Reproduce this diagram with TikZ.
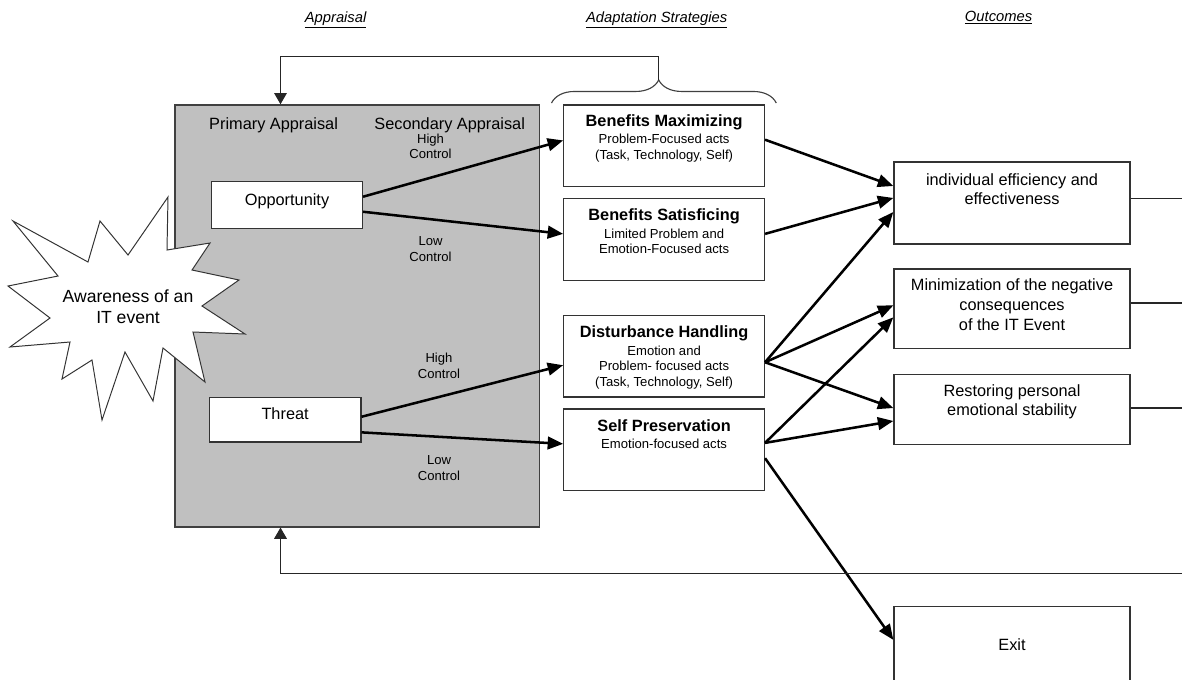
\documentclass[tikz,border=0pt]{standalone}
\usepackage{fontspec}
\setmainfont{Liberation Sans}
\usepackage{tikz}
\usetikzlibrary{arrows.meta,positioning,decorations.pathreplacing}
\definecolor{apprgray}{RGB}{192,192,192}

\begin{document}
\begin{tikzpicture}[x=0.025cm,y=-0.025cm,
    every node/.style={inner sep=0pt,font=\fontsize{11.6}{14}\selectfont},
    plainbox/.style={draw=black!80,line width=0.9pt,fill=white},
    stratbox/.style={plainbox,minimum width=142.7pt,minimum height=58pt},
    outbox/.style={plainbox,minimum width=167.9pt},
    boxtitle/.style={font=\fontsize{11.6}{14}\selectfont\bfseries,text height=8.3pt,text depth=2.5pt},
    boxsub/.style={font=\fontsize{9.3}{11.2}\selectfont,align=center},
    ctrl/.style={font=\fontsize{9.3}{11.2}\selectfont,align=center},
    hdr/.style={font=\fontsize{10.5}{12}\selectfont\itshape,anchor=base},
    arr/.style={line width=1.8pt,-{Triangle[length=11pt,width=9pt]}},
    fb/.style={draw=black!85,line width=0.9pt,-{Triangle[length=8pt,width=9pt]}},
    edge line/.style={draw=black!85,line width=0.9pt}]
  \useasboundingbox (0,0) rectangle (1182,679);

  % column headings
  \node[hdr] (hApp) at (335.6,22.5) {\underline{Appraisal}};
  \node[hdr] (hAdapt) at (656.7,22.5) {\underline{Adaptation Strategies}};
  \node[hdr] (hOut) at (998.6,21.5) {\underline{Outcomes}};

  % appraisal block
  \node[draw=black!75,line width=1pt,fill=apprgray,minimum width=259.3pt,minimum height=300pt] (app) at (357.3,315.9) {};
  \node[anchor=base] (prim) at (273.6,129) {Primary Appraisal};
  \node[anchor=base] (sec) at (449.7,129) {Secondary Appraisal};

  % the event
  \draw[draw=black!80,line width=0.7pt,fill=white] (13,221) -- (88,262) -- (100,221) -- (128,255)
    -- (168,197) -- (167,250) -- (210,243) -- (192,270) -- (239,280) -- (202,306) -- (245,334)
    -- (193,332) -- (205,382) -- (163,348) -- (153,401) -- (125,352) -- (102,420) -- (92,360)
    -- (62,379) -- (70,342) -- (10,347) -- (50,318) -- (8,286) -- (58,276) -- cycle;
  \node[align=center,font=\fontsize{12.5}{15}\selectfont] (aware) at (128,306.5) {Awareness of an\\IT event};

  \node[plainbox,minimum width=107.3pt,minimum height=33.1pt] (opp) at (287,205) {};
  \node[below=8.9pt of opp.north] (oppT) {Opportunity};
  \node[plainbox,minimum width=107.8pt,minimum height=31.8pt] (threat) at (285.1,419.7) {};
  \node[below=7.8pt of threat.north] (threatT) {Threat};

  \node[ctrl] (hc1) at (430.5,146.3) {High\\Control};
  \node[ctrl] (lc1) at (430.5,248.8) {Low\\Control};
  \node[ctrl] (hc2) at (439,365.5) {High\\Control};
  \node[ctrl] (lc2) at (439,468.3) {Low\\Control};

  % strategies
  \node[stratbox] (bm) at (664.1,145.9) {};
  \node[boxtitle,below=6.8pt of bm.north] (bmT) {Benefits Maximizing};
  \node[boxsub,below=3pt of bmT] (bmS) {Problem-Focused acts\\(Task, Technology, Self)};
  \node[stratbox] (bs) at (664.1,239.5) {};
  \node[boxtitle,below=7.3pt of bs.north] (bsT) {Benefits Satisficing};
  \node[boxsub,below=3pt of bsT] (bsS) {Limited Problem and\\Emotion-Focused acts};
  \node[stratbox] (dh) at (664.1,356.2) {};
  \node[boxtitle,below=7.6pt of dh.north] (dhT) {Disturbance Handling};
  \node[boxsub,below=3pt of dhT] (dhS) {Emotion and\\Problem- focused acts\\(Task, Technology, Self)};
  \node[stratbox] (sp) at (664.1,449.9) {};
  \node[boxtitle,below=7.6pt of sp.north] (spT) {Self Preservation};
  \node[boxsub,below=3pt of spT] (spS) {Emotion-focused acts};

  \draw[draw=black!75,line width=0.8pt,decorate,decoration={brace,amplitude=16.4pt,aspect=0.477}] (551.5,103) -- (776.3,103);
  \coordinate (bracetip) at (658.8,80);

  % outcomes
  \node[outbox,minimum height=58.3pt] (ie) at (1012,203) {};
  \node[align=center,below=8.2pt of ie.north] (ieT) {individual efficiency and\\effectiveness};
  \node[outbox,minimum height=56.7pt] (minim) at (1012,308.9) {};
  \node[align=center,below=7.3pt of minim.north] (minimT) {Minimization of the negative\\consequences\\of the IT Event};
  \node[outbox,minimum height=49.8pt] (rest) at (1012,409.3) {};
  \node[align=center,below=7.5pt of rest.north] (restT) {Restoring personal\\emotional stability};
  \node[outbox,minimum height=54.3pt] (exit) at (1012,644.9) {Exit};

  % appraisal -> strategies
  \draw[arr] ([yshift=5.9pt]opp.east) -- ([yshift=3.9pt]bm.west);
  \draw[arr] ([yshift=-4.8pt]opp.east) -- ([yshift=4pt]bs.west);
  \draw[arr] ([yshift=2.1pt]threat.east) -- ([yshift=-6.4pt]dh.west);
  \draw[arr] ([yshift=-9pt]threat.east) -- ([yshift=4.3pt]sp.west);

  % strategies -> outcomes
  \draw[arr] ([yshift=4.4pt]bm.east) -- ([yshift=12.1pt]ie.west);
  \draw[arr] ([yshift=4pt]bs.east) -- ([yshift=3.6pt]ie.west);
  \draw[arr] ([yshift=-4.3pt]dh.east) -- ([yshift=-6.4pt]ie.west);
  \draw[arr] ([yshift=-4.3pt]dh.east) -- ([yshift=2.5pt]minim.west);
  \draw[arr] ([yshift=-4.3pt]dh.east) -- ([yshift=0.9pt]rest.west);
  \draw[arr] ([yshift=5pt]sp.east) -- ([yshift=-6pt]minim.west);
  \draw[arr] ([yshift=5pt]sp.east) -- ([yshift=-8.3pt]rest.west);
  \draw[arr] ([yshift=-5.9pt]sp.east) -- ([yshift=3.6pt]exit.west);

  % lines running off to the right
  \coordinate (ieout) at (1182,198.3);
  \coordinate (minimout) at (1182,303);
  \coordinate (restout) at (1182,408);
  \draw[edge line] (ie.east |- ieout) -- (ieout);
  \draw[edge line] (minim.east |- minimout) -- (minimout);
  \draw[edge line] (rest.east |- restout) -- (restout);

  % feedback loops
  \coordinate (fbtop) at (280.5,56.7);
  \draw[fb] (bracetip) |- (fbtop) -- (fbtop |- app.north);
  \coordinate (fbright) at (1182,573.3);
  \coordinate (fbbot) at (280.5,573.3);
  \draw[fb] (fbright) -- (fbbot) -- (fbbot |- app.south);
\end{tikzpicture}
\end{document}
